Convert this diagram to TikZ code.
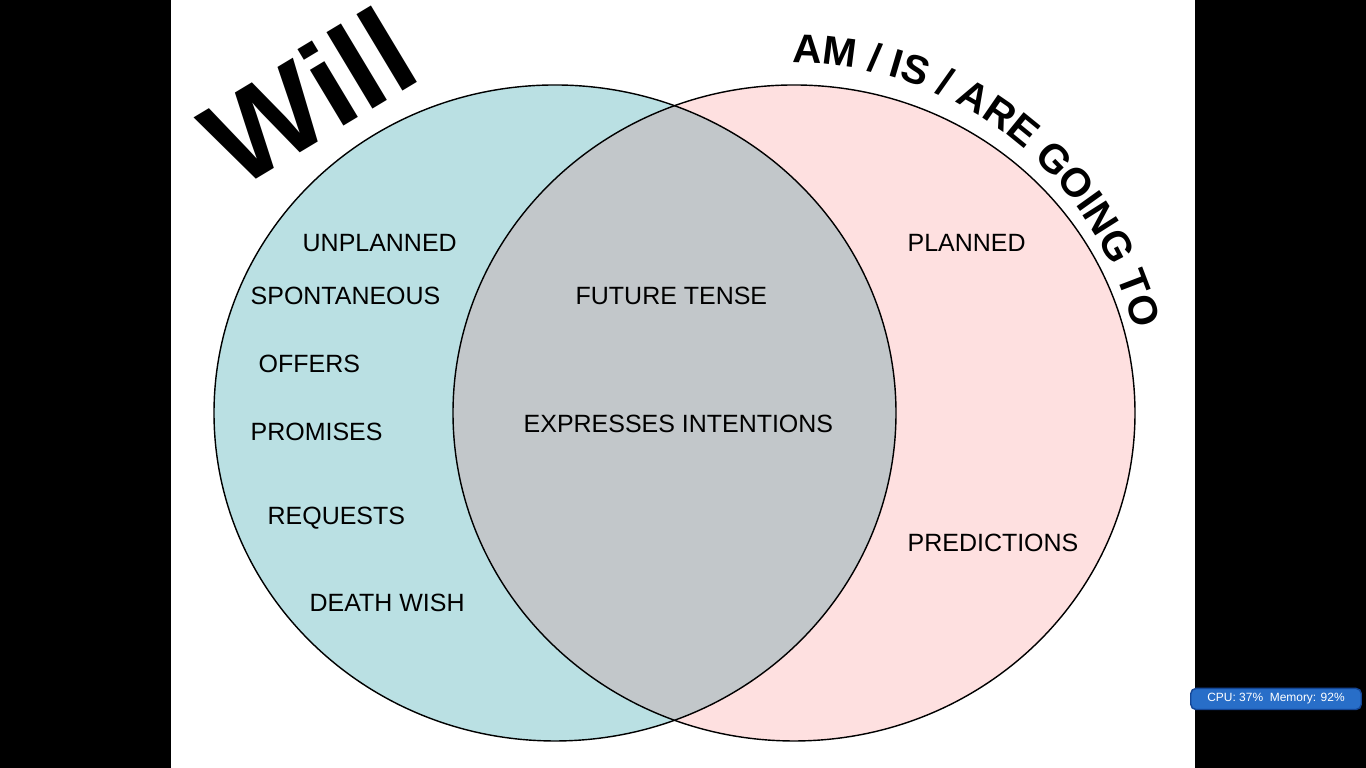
\documentclass[tikz,border=0pt]{standalone}
\usepackage{fontspec}
\setmainfont{Liberation Sans}
\usetikzlibrary{decorations.text}

\begin{document}
\begin{tikzpicture}[x=0.01cm,y=0.01cm]
	\tikzstyle {item} = [anchor=west, inner sep=0pt, font=\fontsize{7.1}{8}\selectfont]
	\tikzstyle {ring} = [x radius=341, y radius=328]

	% slide and frame
	\fill[black] (0,0) rectangle (1366,768);
	\fill[white] (171,0) rectangle (1195,768);
	\useasboundingbox (0,0) rectangle (1366,768);

	% the two sets
	\fill[fill={rgb,255:red,186;green,224;blue,227}] (555,355) ellipse[ring];
	\fill[fill={rgb,255:red,254;green,224;blue,224}] (794,355) ellipse[ring];
	\begin{scope}
		\clip (555,355) ellipse[ring];
		\fill[fill={rgb,255:red,194;green,199;blue,202}] (794,355) ellipse[ring];
	\end{scope}
	\draw[thin] (555,355) ellipse[ring];
	\draw[thin] (794,355) ellipse[ring];

	% titles
	\node (will) [rotate=31, font=\fontsize{35}{35}\bfseries\selectfont] at (308,672) {Will};
	\path[decorate, decoration={text along path, text align=center,
		text={|\fontsize{11.5}{12}\bfseries\selectfont|AM / IS / ARE GOING TO}}]
		(794,355) ++(98:350) arc[start angle=98, end angle=6, x radius=350, y radius=350];

	% left set
	\node (unplanned) [item] at (302,525) {UNPLANNED};
	\node (spontaneous) [item] at (250,472) {SPONTANEOUS};
	\node (offers) [item] at (258,404) {OFFERS};
	\node (promises) [item] at (250,336) {PROMISES};
	\node (requests) [item] at (267,250) {REQUESTS};
	\node (deathwish) [item] at (309,165) {DEATH WISH};

	% shared part
	\node (future) [item] at (575,472) {FUTURE TENSE};
	\node (intentions) [item] at (523,344) {EXPRESSES INTENTIONS};

	% right set
	\node (planned) [item] at (907,525) {PLANNED};
	\node (predictions) [item] at (907,225) {PREDICTIONS};

	% status widget
	\node (cpu) [draw={rgb,255:red,20;green,70;blue,150}, fill={rgb,255:red,40;green,110;blue,200},
		rounded corners=1.5pt, minimum width=48.5pt, minimum height=6pt, inner sep=0pt, text=white,
		font=\fontsize{3.4}{4}\selectfont] at (1276,69) {CPU: 37\%\ \ Memory: 92\%};
\end{tikzpicture}
\end{document}
